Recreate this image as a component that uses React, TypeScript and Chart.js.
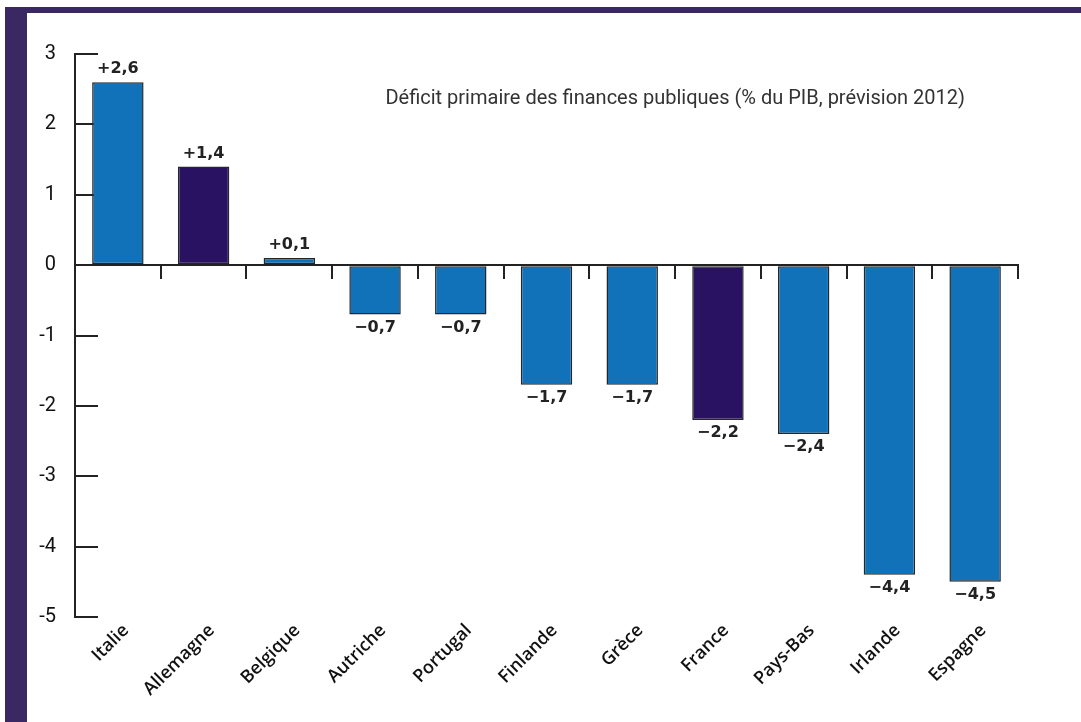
import React, { useEffect, useRef } from 'react';
import { Chart, registerables } from 'chart.js';
Chart.register(...registerables);

const categories = ['Italie', 'Allemagne', 'Belgique', 'Autriche', 'Portugal', 'Finlande', 'Grèce', 'France', 'Pays-Bas', 'Irlande', 'Espagne'];
const values = [2.6, 1.4, 0.1, -0.7, -0.7, -1.7, -1.7, -2.2, -2.4, -4.4, -4.5];
const highlighted = [false, true, false, false, false, false, false, true, false, false, false];
const yMin = -5;
const yMax = 3;
const chartTitle = 'Déficit primaire des finances publiques (% du PIB, prévision 2012)';

const BLUE = '#1172BA';
const DARK = '#2A1262';
const FRAME = '#3A2862';
const INK = '#222222';

const fmt = (v: number) => (v >= 0 ? '+' : '\u2212') + Math.abs(v).toFixed(1).replace('.', ',');

const labelPlugin = {
  id: 'valueLabels',
  afterDatasetsDraw(chart: any) {
    const ctx = chart.ctx;
    const meta = chart.getDatasetMeta(0);
    ctx.save();
    ctx.font = 'bold 16px "DejaVu Sans"';
    ctx.fillStyle = INK;
    ctx.textAlign = 'center';
    meta.data.forEach((bar: any, i: number) => {
      const v = values[i];
      if (v >= 0) {
        ctx.textBaseline = 'bottom';
        ctx.fillText(fmt(v), bar.x, bar.y - 5);
      } else {
        ctx.textBaseline = 'top';
        ctx.fillText(fmt(v), bar.x, bar.y + 5);
      }
    });
    // title
    ctx.font = '20px Roboto';
    ctx.fillStyle = '#333333';
    ctx.textAlign = 'right';
    ctx.textBaseline = 'middle';
    ctx.fillText(chartTitle, chart.chartArea.right - 53, chart.chartArea.top + 45);
    ctx.restore();
  },
};

export default function App() {
  const ref = useRef<HTMLCanvasElement | null>(null);
  useEffect(() => {
    if (!ref.current) return;
    const chart = new Chart(ref.current, {
      type: 'bar',
      data: {
        labels: categories,
        datasets: [
          {
            data: values,
            backgroundColor: highlighted.map((h) => (h ? DARK : BLUE)),
            borderColor: '#262626',
            borderWidth: 1.5,
            borderSkipped: false,
            categoryPercentage: 1,
            barPercentage: 0.6,
            xAxisID: 'x',
            yAxisID: 'y',
          },
        ],
      },
      options: {
        animation: false,
        responsive: false,
        events: [],
        layout: { padding: { left: 30, top: 52, right: 63, bottom: 5 } },
        plugins: { legend: { display: false }, tooltip: { enabled: false }, title: { display: false } },
        scales: {
          x: {
            type: 'category',
            position: 'bottom',
            grid: { display: false, drawTicks: false },
            border: { display: false },
            ticks: {
              autoSkip: false,
              maxRotation: 45,
              minRotation: 45,
              padding: 3,
              labelOffset: 8,
              color: '#111111',
              font: { family: '"Open Sans"', size: 18, weight: '600' },
            },
            afterFit: (s: any) => {
              s.height = 100;
            },
          },
          x0: {
            type: 'category',
            position: { y: 0 } as any,
            grid: { drawOnChartArea: false, drawTicks: true, tickLength: 13, color: INK, lineWidth: 2, offset: true },
            border: { display: true, color: INK, width: 2 },
            ticks: { display: false },
            afterFit: (s: any) => {
              s.height = 0;
            },
          },
          y: {
            min: yMin,
            max: yMax,
            position: 'left',
            grid: { drawOnChartArea: false, drawTicks: true, tickLength: -23, color: INK, lineWidth: 2 },
            border: { display: true, color: INK, width: 2 },
            ticks: {
              stepSize: 1,
              padding: 42,
              color: '#111111',
              font: { family: 'Roboto', size: 20 },
              callback: (v: any) => String(v),
            },
            afterFit: (s: any) => {
              s.width = 45;
            },
          },
        },
      },
      plugins: [labelPlugin],
    });
    return () => chart.destroy();
  }, []);

  return (
    <div style={{ position: 'absolute', left: 0, top: 0, width: 1081, height: 722, background: '#ffffff', overflow: 'hidden' }}>
      <div style={{ position: 'absolute', left: 5, top: 7, width: 1076, height: 6, background: FRAME }} />
      <div style={{ position: 'absolute', left: 5, top: 7, width: 22, height: 715, background: FRAME }} />
      <canvas ref={ref} width={1081} height={722} style={{ position: 'absolute', left: 0, top: 0 }} />
    </div>
  );
}
